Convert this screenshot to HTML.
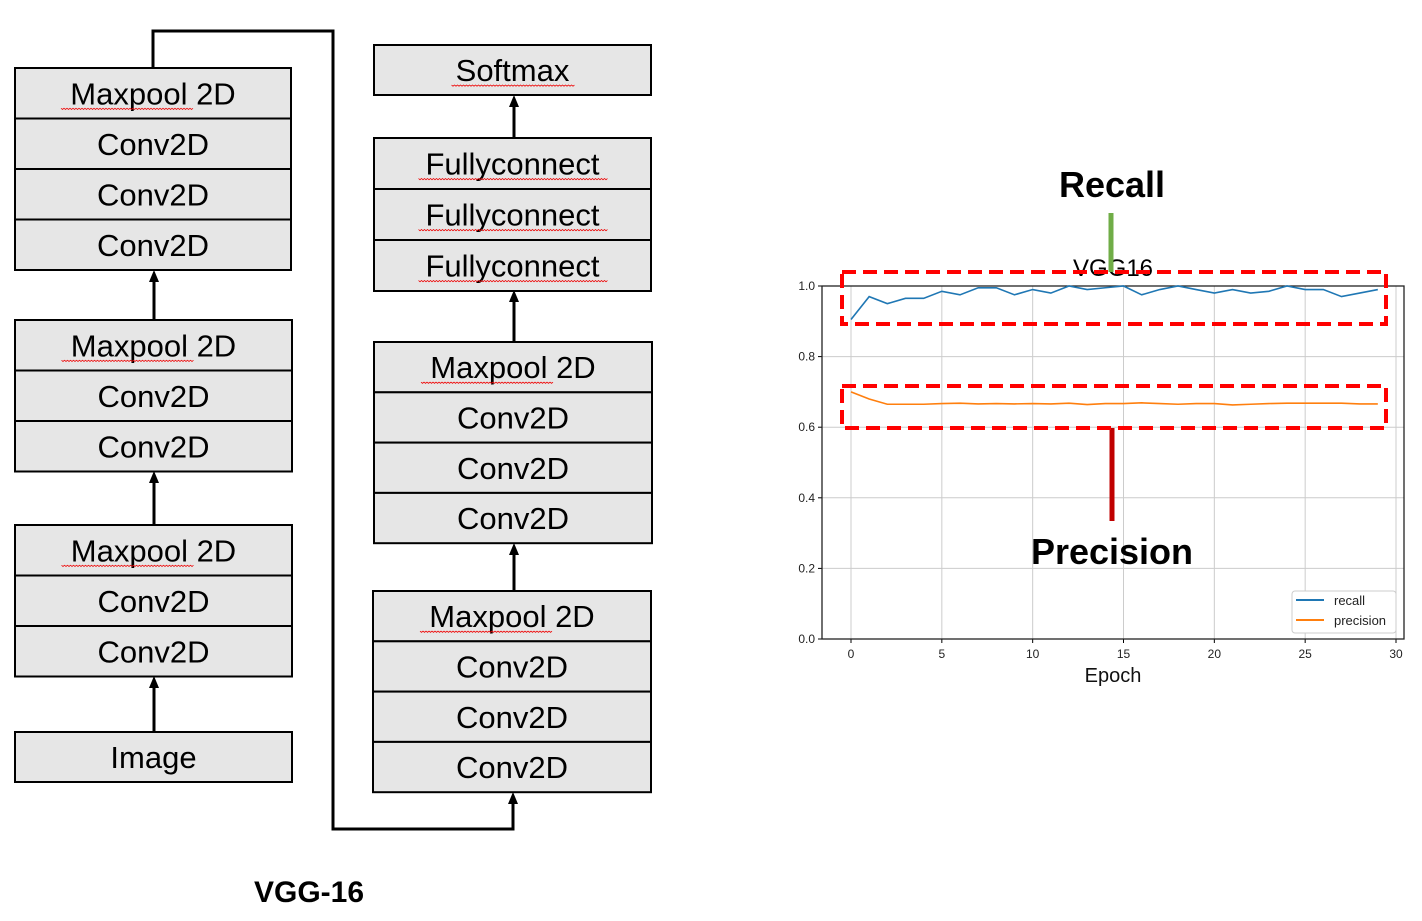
<!DOCTYPE html>
<html><head><meta charset="utf-8"><style>
html,body{margin:0;padding:0;background:#fff;}
svg{display:block;}
</style></head><body>
<svg id="s" width="1422" height="921" xmlns="http://www.w3.org/2000/svg" font-family="Liberation Sans, sans-serif">
<defs>
<marker id="ah" markerWidth="8" markerHeight="8" refX="4" refY="7" orient="auto" markerUnits="userSpaceOnUse">
<path d="M0,8 L4,0 L8,8 z" fill="#000"/></marker>
</defs>
<g id="boxes"></g>
<!-- connectors -->
<g stroke="#000" stroke-width="3" fill="none">
<polyline points="153,68 153,31 333,31 333,829 513,829 513,802"/>
<line x1="154" y1="320" x2="154" y2="280"/>
<line x1="154" y1="525" x2="154" y2="481"/>
<line x1="154" y1="732" x2="154" y2="686"/>
<line x1="514" y1="591" x2="514" y2="553"/>
<line x1="514" y1="342" x2="514" y2="300"/>
<line x1="514" y1="138" x2="514" y2="105"/>
</g>
<g fill="#000">
<path d="M149,282 L154,270 L159,282z"/>
<path d="M149,483 L154,471 L159,483z"/>
<path d="M149,688 L154,676 L159,688z"/>
<path d="M509,555 L514,543 L519,555z"/>
<path d="M509,302 L514,290 L519,302z"/>
<path d="M509,107 L514,95 L519,107z"/>
<path d="M508,804 L513,792 L518,804z"/>
</g>
<text x="309" y="902" font-size="30" font-weight="bold" text-anchor="middle">VGG-16</text>
<g id="plot"></g>
</svg>
<script>
var ns="http://www.w3.org/2000/svg";
function el(p,t,a,txt){var e=document.createElementNS(ns,t);for(var k in a)e.setAttribute(k,a[k]);if(txt!=null)e.textContent=txt;p.appendChild(e);return e;}
var B=document.getElementById('boxes');
function stack(x1,x2,y,labels,h){h=h||50;
 for(var i=0;i<labels.length;i++){var yy=y+i*h;
  el(B,'rect',{x:x1,y:yy,width:x2-x1,height:h,fill:'#e6e6e6',stroke:'#000','stroke-width':2});
  var t=el(B,'text',{x:(x1+x2)/2,y:yy+h/2+11,'font-size':31,'text-anchor':'middle'},labels[i]);
  if(/Maxpool|Softmax|Fullyconnect/.test(labels[i])){
   var w=labels[i]=='Maxpool 2D'?132:(labels[i]=='Softmax'?122:188);
   var sx=(x1+x2)/2-(labels[i]=='Maxpool 2D'?92:w/2), sy=yy+h/2+15,d='M'+sx+','+sy;
   for(var k=0;k<w;k+=3)d+=' l1.5,1.2 l1.5,-1.2';
   el(B,'path',{d:d,stroke:'#e00',fill:'none','stroke-width':0.8});
  }}
}
stack(15,291,68,['Maxpool 2D','Conv2D','Conv2D','Conv2D'],50.5);
stack(15,292,320,['Maxpool 2D','Conv2D','Conv2D'],50.5);
stack(15,292,525,['Maxpool 2D','Conv2D','Conv2D'],50.5);
stack(15,292,732,['Image'],50);
stack(374,651,45,['Softmax'],50);
stack(374,651,138,['Fullyconnect','Fullyconnect','Fullyconnect'],51);
stack(374,652,342,['Maxpool 2D','Conv2D','Conv2D','Conv2D'],50.3);
stack(373,651,591,['Maxpool 2D','Conv2D','Conv2D','Conv2D'],50.3);

var P=document.getElementById('plot');
var L=822,R=1404,T=286,Bt=639;
function X(e){return 851+e*(1396-851)/30;}
function Y(v){return Bt-v*(Bt-T);}
for(var e=0;e<=30;e+=5){el(P,'line',{x1:X(e),y1:T,x2:X(e),y2:Bt,stroke:'#ccc','stroke-width':1});
 el(P,'line',{x1:X(e),y1:Bt,x2:X(e),y2:Bt+4,stroke:'#000'});
 el(P,'text',{x:X(e),y:Bt+19,'font-size':12,'text-anchor':'middle',fill:'#222'},String(e));}
for(var v=0;v<=5;v++){var y=Y(v*0.2);el(P,'line',{x1:L,y1:y,x2:R,y2:y,stroke:'#ccc','stroke-width':1});
 el(P,'line',{x1:L-4,y1:y,x2:L,y2:y,stroke:'#000'});
 el(P,'text',{x:L-7,y:y+4,'font-size':12,'text-anchor':'end',fill:'#222'},(v*0.2).toFixed(1));}
el(P,'rect',{x:L,y:T,width:R-L,height:Bt-T,fill:'none',stroke:'#222','stroke-width':1.3});
var rc=[0.905,0.97,0.95,0.965,0.965,0.985,0.975,0.995,0.995,0.975,0.99,0.98,1.0,0.99,0.995,1.0,0.975,0.99,1.0,0.99,0.98,0.99,0.98,0.985,1.0,0.99,0.99,0.97,0.98,0.99];
var pr=[0.70,0.68,0.665,0.665,0.665,0.667,0.668,0.666,0.667,0.666,0.667,0.666,0.668,0.664,0.667,0.667,0.669,0.667,0.665,0.667,0.667,0.663,0.665,0.667,0.668,0.668,0.668,0.668,0.666,0.666];
function pts(a){return a.map(function(v,i){return X(i)+','+Y(v)}).join(' ');}
el(P,'polyline',{points:pts(rc),fill:'none',stroke:'#1f77b4','stroke-width':1.6});
el(P,'polyline',{points:pts(pr),fill:'none',stroke:'#ff7f0e','stroke-width':1.6});
el(P,'text',{x:1113,y:276,'font-size':24,'text-anchor':'middle'},'VGG16');
el(P,'text',{x:1113,y:682,'font-size':20,'text-anchor':'middle',fill:'#111'},'Epoch');
// legend
el(P,'rect',{x:1292,y:591,width:104,height:42,fill:'#fff',stroke:'#ccc',rx:3});
el(P,'line',{x1:1296,y1:600,x2:1324,y2:600,stroke:'#1f77b4','stroke-width':2});
el(P,'line',{x1:1296,y1:620,x2:1324,y2:620,stroke:'#ff7f0e','stroke-width':2});
el(P,'text',{x:1334,y:605,'font-size':13,fill:'#222'},'recall');
el(P,'text',{x:1334,y:625,'font-size':13,fill:'#222'},'precision');
// annotations
el(P,'line',{x1:1111,y1:213,x2:1111,y2:272,stroke:'#70ad47','stroke-width':5});
el(P,'line',{x1:1112,y1:428,x2:1112,y2:521,stroke:'#c00000','stroke-width':5});
el(P,'rect',{x:842,y:272,width:544,height:52,fill:'none',stroke:'#f00','stroke-width':4,'stroke-dasharray':'14,7'});
el(P,'rect',{x:842,y:386,width:544,height:42,fill:'none',stroke:'#f00','stroke-width':4,'stroke-dasharray':'14,7'});
el(P,'text',{x:1112,y:197,'font-size':36,'font-weight':'bold','text-anchor':'middle'},'Recall');
el(P,'text',{x:1112,y:564,'font-size':36,'font-weight':'bold','text-anchor':'middle'},'Precision');
</script>
</body></html>
